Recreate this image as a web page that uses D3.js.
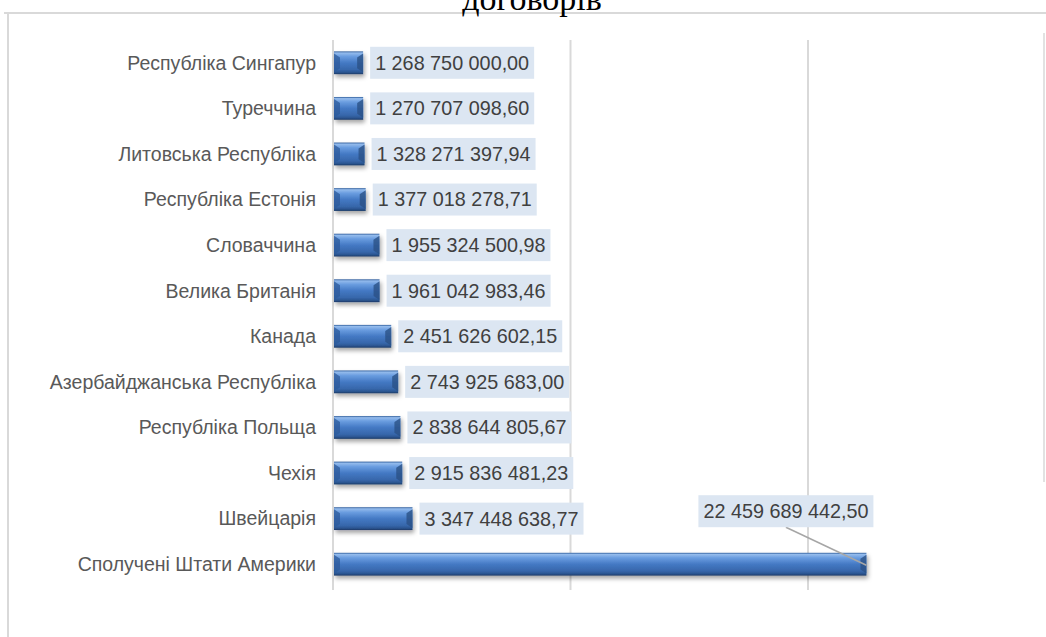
<!DOCTYPE html>
<html>
<head>
<meta charset="utf-8">
<script src="https://cdn.jsdelivr.net/npm/d3@7"></script>
<style>
  body { margin: 0; background: #fff; }
  svg { display: block; }
</style>
</head>
<body>
<div id="chart"></div>
<script>
var w = 1046,
    h = 637;

var titleLine = "договорів";

var countries = [
  "Республіка Сингапур",
  "Туреччина",
  "Литовська Республіка",
  "Республіка Естонія",
  "Словаччина",
  "Велика Британія",
  "Канада",
  "Азербайджанська Республіка",
  "Республіка Польща",
  "Чехія",
  "Швейцарія",
  "Сполучені Штати Америки"
];

var amounts = [
  1268750000.00,
  1270707098.60,
  1328271397.94,
  1377018278.71,
  1955324500.98,
  1961042983.46,
  2451626602.15,
  2743925683.00,
  2838644805.67,
  2915836481.23,
  3347448638.77,
  22459689442.50
];

var gridValues = [0, 10e9, 20e9];

var data = countries.map(function(c, i) { return {name: c, value: amounts[i]}; });

var fmt = d3.formatLocale({decimal: ",", thousands: " ", grouping: [3], currency: ["", ""]}).format(",.2f");

var svg = d3.select("#chart").append("svg")
    .attr("width", w)
    .attr("height", h);

var defs = svg.append("defs");

var grad = defs.append("linearGradient")
    .attr("id", "bar-grad")
    .attr("x1", "0%").attr("y1", "0%")
    .attr("x2", "0%").attr("y2", "100%");
[["0%", "#2b5a99"], ["7%", "#94bbec"], ["22%", "#6a9de0"], ["50%", "#4479c4"],
 ["80%", "#3767ab"], ["92%", "#2b5590"], ["100%", "#1c3a66"]].forEach(function(s) {
  grad.append("stop").attr("offset", s[0]).attr("stop-color", s[1]);
});

var shadow = defs.append("filter")
    .attr("id", "bar-shadow")
    .attr("x", "-10%").attr("y", "-30%")
    .attr("width", "130%").attr("height", "180%");
shadow.append("feDropShadow")
    .attr("dx", 1.5).attr("dy", 3)
    .attr("stdDeviation", 2)
    .attr("flood-color", "#000")
    .attr("flood-opacity", 0.35);

// chart frame
svg.append("line")
    .attr("x1", 4).attr("x2", w).attr("y1", 13).attr("y2", 13)
    .attr("stroke", "#d9d9d9").attr("stroke-width", 2);
svg.append("line")
    .attr("x1", 8).attr("x2", 8).attr("y1", 13).attr("y2", h)
    .attr("stroke", "#d9d9d9").attr("stroke-width", 2);
svg.append("line")
    .attr("x1", 1044).attr("x2", 1044).attr("y1", 33).attr("y2", 482)
    .attr("stroke", "#d9d9d9").attr("stroke-width", 1.5);

// title (only its last line shows)
svg.append("text")
    .attr("x", 532)
    .attr("y", 10)
    .attr("text-anchor", "middle")
    .style("font-family", "'Liberation Serif', 'DejaVu Serif', serif")
    .style("font-size", "34px")
    .style("fill", "#000")
    .text(titleLine);

var x = d3.scaleLinear()
    .domain([0, 30e9])
    .range([333, 1045.5]);

var y = d3.scaleBand()
    .domain(countries)
    .range([40, 587])
    .paddingInner(0.5)
    .paddingOuter(0.25);

// gridlines
svg.append("g").selectAll("line")
    .data(gridValues)
  .enter().append("line")
    .attr("x1", function(d) { return x(d); })
    .attr("x2", function(d) { return x(d); })
    .attr("y1", 40)
    .attr("y2", 590)
    .attr("stroke", "#d9d9d9")
    .attr("stroke-width", 2);

// category axis labels
svg.append("g").selectAll("text")
    .data(data)
  .enter().append("text")
    .attr("x", 316)
    .attr("y", function(d) { return y(d.name) + y.bandwidth() / 2; })
    .attr("dy", "0.35em")
    .attr("text-anchor", "end")
    .style("font-family", "'Liberation Sans', Arial, sans-serif")
    .style("font-size", "19.5px")
    .style("fill", "#595959")
    .text(function(d) { return d.name; });

// bars
var bars = svg.append("g").selectAll("g")
    .data(data)
  .enter().append("g")
    .attr("filter", "url(#bar-shadow)");

bars.append("rect")
    .attr("x", x(0) + 1)
    .attr("y", function(d) { return y(d.name); })
    .attr("width", function(d) { return x(d.value) - x(0) - 1; })
    .attr("height", y.bandwidth())
    .attr("fill", "url(#bar-grad)");

// bevel ends
var bev = 6;
bars.append("path")
    .attr("d", function(d) {
      var x0 = x(0) + 1, y0 = y(d.name), y1 = y0 + y.bandwidth();
      return "M" + x0 + "," + (y0 + 2) + "L" + (x0 + bev) + "," + (y0 + bev) +
             "L" + (x0 + bev) + "," + (y1 - bev) + "L" + x0 + "," + (y1 - 2) + "Z";
    })
    .attr("fill", "#2c5a9a")
    .attr("opacity", 0.75);
bars.append("path")
    .attr("d", function(d) {
      var x1 = x(d.value), y0 = y(d.name), y1 = y0 + y.bandwidth();
      return "M" + x1 + "," + (y0 + 2) + "L" + (x1 - bev) + "," + (y0 + bev) +
             "L" + (x1 - bev) + "," + (y1 - bev) + "L" + x1 + "," + (y1 - 2) + "Z";
    })
    .attr("fill", "#2a5186")
    .attr("opacity", 0.8);

// data labels
var maxVal = d3.max(amounts);
var labels = svg.append("g").selectAll("g")
    .data(data)
  .enter().append("g");

labels.each(function(d) {
  var g = d3.select(this);
  var cy = y(d.name) + y.bandwidth() / 2;
  var isBig = d.value === maxVal;
  var t = g.append("text")
      .attr("dy", "0.35em")
      .style("font-family", "'Liberation Sans', Arial, sans-serif")
      .style("font-size", "19.8px")
      .style("fill", "#404040")
      .text(fmt(d.value));
  var tw = t.node().getComputedTextLength();
  var bw = tw + 10, bh = 32;
  var bx, by;
  if (isBig) {
    bx = x(d.value) + 7 - bw;
    by = cy - 69;
    g.insert("line", "text")
        .attr("x1", bx + bw * 0.5)
        .attr("y1", by + bh)
        .attr("x2", x(d.value))
        .attr("y2", cy + 1)
        .attr("stroke", "#a6a6a6")
        .attr("stroke-width", 1.5);
  } else {
    bx = x(d.value) + 7;
    by = cy - bh / 2;
  }
  g.insert("rect", "text")
      .attr("x", bx)
      .attr("y", by)
      .attr("width", bw)
      .attr("height", bh)
      .attr("fill", "#dce6f2");
  t.attr("x", bx + 5).attr("y", by + bh / 2);
});
</script>
</body>
</html>
